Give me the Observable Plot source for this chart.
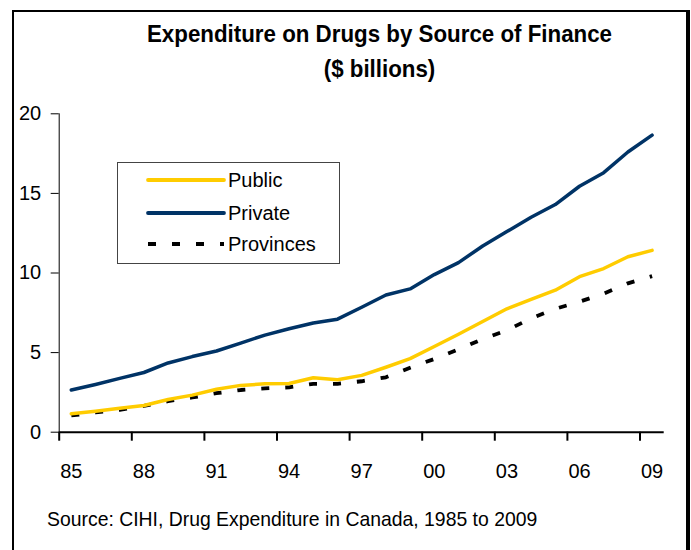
<!DOCTYPE html>
<html>
<head>
<meta charset="utf-8">
<script src="https://cdn.jsdelivr.net/npm/d3@7"></script>
<script src="https://cdn.jsdelivr.net/npm/@observablehq/plot@0.6"></script>
<style>
  html, body { margin: 0; padding: 0; background: #fff; overflow: hidden; }
  #wrap { position: relative; width: 691px; height: 550px; font-family: "Liberation Sans", Arial, sans-serif; }
  #frame { position: absolute; left: 12px; top: 10px; width: 672px; height: 600px; border: 2px solid #000; border-right-width: 4px; box-sizing: content-box; }
  #title { position: absolute; left: 0; width: 759px; top: 15.6px; text-align: center; font-weight: bold; font-size: 24px; line-height: 35px; color: #000; transform: scaleX(0.93); transform-origin: 379.5px 0; white-space: nowrap; }
  #source { position: absolute; left: 47px; top: 507px; font-size: 21px; line-height: 24px; color: #000; transform: scaleX(0.923); transform-origin: 0 0; white-space: nowrap; }
  #legend { position: absolute; left: 117px; top: 162px; width: 221px; height: 100px; border: 1px solid #444; background: #fff; }
  #legend .row { position: absolute; left: 28px; height: 20px; display: flex; align-items: center; font-size: 20px; white-space: nowrap; }
  #legend svg { margin-right: 2px; }
  #chart { position: absolute; left: 0; top: 0; }
</style>
</head>
<body>
<div id="wrap">
  <div id="frame"></div>
  <div id="chart"></div>
  <div id="title">Expenditure on Drugs by Source of Finance<br>($ billions)</div>
  <div id="legend"></div>
  <div id="source">Source: CIHI, Drug Expenditure in Canada, 1985 to 2009</div>
</div>
<script>
const years = d3.range(1985, 2010);
const publicVals = [1.16, 1.32, 1.5, 1.68, 2.05, 2.33, 2.7, 2.94, 3.04, 3.06, 3.42, 3.3, 3.57, 4.08, 4.62, 5.38, 6.15, 6.95, 7.75, 8.35, 8.92, 9.77, 10.28, 11.02, 11.42];
const privateVals = [2.65, 3.0, 3.38, 3.75, 4.35, 4.75, 5.1, 5.6, 6.1, 6.5, 6.86, 7.1, 7.85, 8.62, 9.0, 9.9, 10.65, 11.7, 12.6, 13.5, 14.3, 15.45, 16.3, 17.6, 18.66];
const provincesVals = [1.05, 1.24, 1.4, 1.65, 1.95, 2.18, 2.45, 2.65, 2.75, 2.82, 3.04, 3.04, 3.2, 3.45, 4.05, 4.6, 5.2, 5.85, 6.4, 7.15, 7.75, 8.2, 8.7, 9.35, 9.8];
const seriesNames = ["Public", "Private", "Provinces"];
const seriesColors = ["#FFCC00", "#003366", "#000000"];
const yTicks = [0, 5, 10, 15, 20];
const xLabelYears = [1985, 1988, 1991, 1994, 1997, 2000, 2003, 2006, 2009];
const xTickBounds = [1984.5, 1987.5, 1990.5, 1993.5, 1996.5, 1999.5, 2002.5, 2005.5, 2008.5];

const rows = (vals) => years.map((y, i) => ({year: y, value: vals[i]}));
const pub = rows(publicVals), priv = rows(privateVals), prov = rows(provincesVals);

const chart = Plot.plot({
  width: 691,
  height: 550,
  marginTop: 113.3,
  marginBottom: 118.3,
  marginLeft: 58.7,
  marginRight: 27.3,
  style: {fontFamily: "'Liberation Sans', Arial, sans-serif", fontSize: "20px", color: "#000", background: "transparent", overflow: "visible"},
  x: {type: "linear", domain: [1984.5, 2009.5], axis: null, label: null},
  y: {domain: [0, 20], axis: null, label: null},
  marks: [
    Plot.ruleX([1984.5], {y1: 0, y2: 20, stroke: "#000", strokeWidth: 1}),
    Plot.ruleY([0], {x1: 1984.5, x2: 2009.5, stroke: "#000", strokeWidth: 2}),
    Plot.axisY({ticks: yTicks, label: null, tickSize: 8, tickPadding: 10, tickFormat: d => String(d), stroke: "#000", strokeWidth: 1, fontSize: 20}),
    Plot.axisX({ticks: xTickBounds, label: null, tickSize: 9, tickFormat: () => "", stroke: "#000", strokeWidth: 2}),
    Plot.axisX({ticks: xLabelYears, label: null, tickSize: 0, tickPadding: 32, tickFormat: d => String(d % 100).padStart(2, "0"), fontSize: 20}),
    Plot.line(prov, {x: "year", y: "value", stroke: seriesColors[2], strokeWidth: 3.8, strokeDasharray: "8,16", strokeLinecap: "butt"}),
    Plot.line(pub, {x: "year", y: "value", stroke: seriesColors[0], strokeWidth: 3.5}),
    Plot.line(priv, {x: "year", y: "value", stroke: seriesColors[1], strokeWidth: 3.5})
  ]
});
document.getElementById("chart").appendChild(chart);

// legend
const legend = document.getElementById("legend");
const rowTops = [7, 40, 71];
seriesNames.forEach((name, i) => {
  const row = document.createElement("div");
  row.className = "row";
  row.style.top = rowTops[i] + "px";
  const dash = i === 2 ? 'stroke-dasharray="8,16" stroke-linecap="butt"' : 'stroke-linecap="round"';
  row.innerHTML = `<svg width="80" height="8"><line x1="2" x2="78" y1="4" y2="4" stroke="${seriesColors[i]}" stroke-width="3.8" ${dash}/></svg><span>${name}</span>`;
  legend.appendChild(row);
});
</script>
</body>
</html>
